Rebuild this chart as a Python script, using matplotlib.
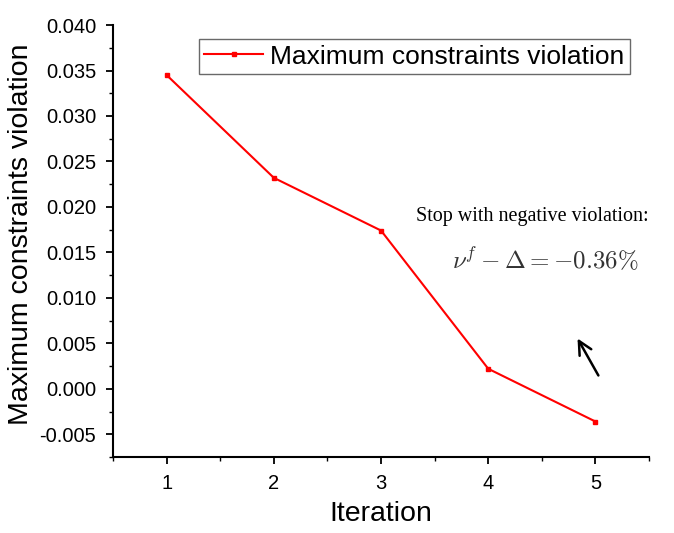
import matplotlib
matplotlib.use("Agg")
import matplotlib.pyplot as plt
from matplotlib.ticker import MultipleLocator

# data
iterations = [1, 2, 3, 4, 5]
violation = [0.0345, 0.0232, 0.0174, 0.0022, -0.0036]

plt.rcParams['font.family'] = ['Liberation Sans', 'DejaVu Sans']
plt.rcParams['mathtext.fontset'] = 'cm'

fig = plt.figure(figsize=(6.74, 5.33), dpi=100)
ax = fig.add_axes([0.1677, 0.1426, 0.7953, 0.8104])

ax.plot(iterations, violation, color='red', lw=1.5, marker='s', ms=3,
        label='Maximum constraints violation')

ax.set_xlim(0.5, 5.5)
ax.set_ylim(-0.0075, 0.040)
ax.xaxis.set_major_locator(MultipleLocator(1))
ax.xaxis.set_minor_locator(MultipleLocator(0.5))
ax.yaxis.set_major_locator(MultipleLocator(0.005))
ax.yaxis.set_minor_locator(MultipleLocator(0.0025))
ax.yaxis.set_major_formatter(plt.FuncFormatter(lambda v, p: f"{v:.3f}"))

for s in ['top', 'right']:
    ax.spines[s].set_visible(False)
for s in ['left', 'bottom']:
    ax.spines[s].set_linewidth(1.5)
ax.tick_params(which='major', length=5, width=1.3, labelsize=14.5, pad=7)
ax.tick_params(which='minor', length=3, width=1.0)

ax.set_xlabel('Iteration', fontsize=20.5, labelpad=6)
ax.set_ylabel('Maximum constraints violation', fontsize=20.5)
ax.yaxis.set_label_coords(-0.148, 0.515)

leg = ax.legend(loc='upper left', bbox_to_anchor=(0.146, 0.985), fontsize=19,
                frameon=True, fancybox=False, edgecolor='#444444',
                handlelength=2.2, borderpad=0.2, handletextpad=0.3,
                borderaxespad=0.3)
leg.get_frame().set_linewidth(1.0)

ax.text(0.565, 0.556, 'Stop with negative violation:', transform=ax.transAxes,
        family='Liberation Serif', fontsize=14.5, ha='left', va='center')
ax.text(0.632, 0.458, r'$\nu^f - \Delta = -0.36\%$', transform=ax.transAxes,
        fontsize=18, color='#333333', ha='left', va='center')

ax.annotate('', xy=(4.82, 0.0058), xytext=(5.04, 0.0012),
            arrowprops=dict(arrowstyle='->', lw=1.8, color='black',
                            mutation_scale=24))

fig.savefig('out.png', dpi=100)
